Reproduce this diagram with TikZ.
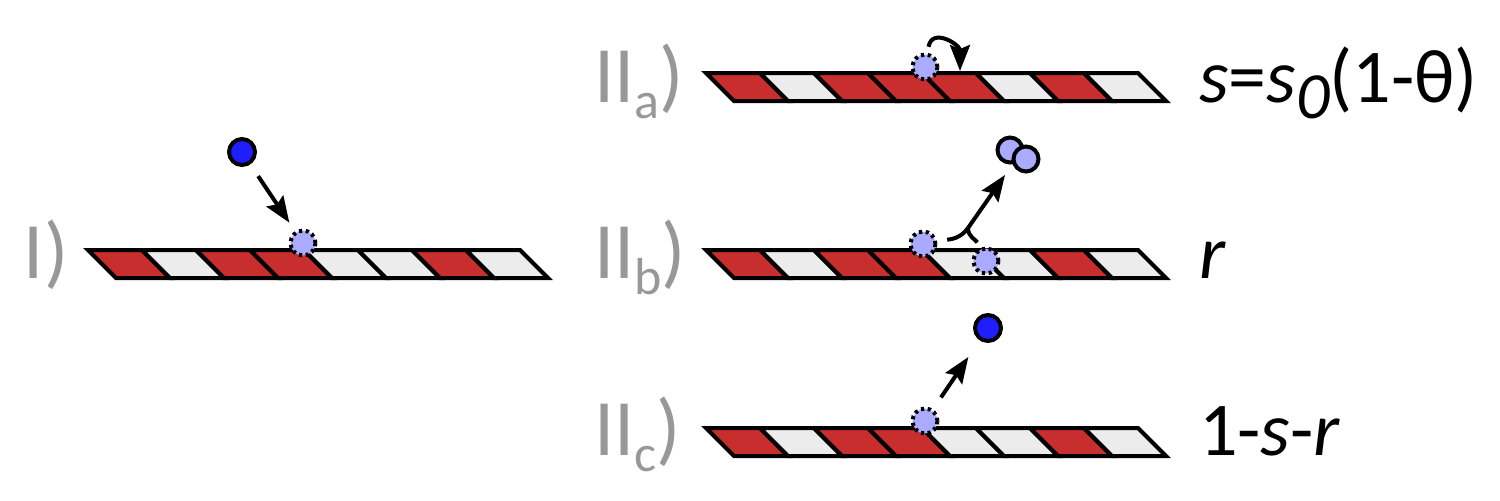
\documentclass[tikz,border=0pt]{standalone}
\usepackage{fontspec}
\setmainfont{Carlito}
\usepackage{tikz}
\usetikzlibrary{arrows.meta,positioning,calc}

\definecolor{rd}{RGB}{200,46,46}
\definecolor{wt}{RGB}{236,236,236}
\definecolor{sitecol}{RGB}{170,170,255}
\definecolor{ballcol}{RGB}{30,30,255}
\definecolor{labelgray}{RGB}{152,152,152}

% one strip of 8 slanted cells: x, y of top left corner, cell colours
\newcommand{\tape}[3]{%
  \foreach \c [count=\i from 0] in {#3}
    \filldraw[fill=\c] ({#1+54*\i},#2) -- ++(54,0) -- ++(28,28) -- ++(-54,0) -- cycle;
}
\newcommand{\sub}[1]{\raisebox{-8pt}{\fontsize{26}{26}\selectfont #1}}

\begin{document}
\begin{tikzpicture}[x=0.5pt,y=-0.5pt,line width=2pt,>={Stealth[length=13pt,width=10pt,inset=2pt]},
    site/.style={circle,draw,dash pattern=on 1.6pt off 1.8pt,fill=sitecol,inner sep=0pt,minimum size=12.5pt},
    mol/.style={circle,draw,fill=sitecol,inner sep=0pt,minimum size=12.5pt},
    ball/.style={circle,draw,fill=ballcol,inner sep=0pt,minimum size=13pt},
    stage/.style={text=labelgray,font=\fontsize{40}{40}\selectfont,anchor=base west,inner sep=0pt},
    rate/.style={font=\fontsize{38}{38}\selectfont,anchor=base west,inner sep=0pt}]
      \useasboundingbox (0,0) rectangle (1500,500);

      \tape{88}{250}{rd,wt,rd,rd,wt,wt,rd,wt}
      \tape{706}{73}{rd,wt,rd,rd,rd,wt,rd,wt}
      \tape{706}{250}{rd,wt,rd,rd,wt,wt,rd,wt}
      \tape{706}{428}{rd,wt,rd,rd,wt,wt,rd,wt}

      \node[stage] (lI) at (22,278) {I)};
      \node[stage] (lA) at (592,102) {II\sub{a})};
      \node[stage] (lB) at (592,278) {II\sub{b})};
      \node[stage] (lC) at (592,455) {II\sub{c})};

      \node[rate] (rA) at (1197,102) {\textit{s}=\textit{s}\raisebox{-8pt}{\fontsize{33}{33}\selectfont\textit{0}}(1-θ)};
      \node[rate] (rB) at (1197,278) {\textit{r}};
      \node[rate] (rC) at (1197,455) {1-\textit{s}-\textit{r}};

      % I
      \node[ball] (bI) at (242,152) {};
      \node[site] (sI) at (303,243) {};
      \draw[->,shorten <=7pt,shorten >=5pt] (bI) -- (sI);

      % II a
      \node[site] (sA) at (925,67) {};
      \coordinate (cA) at (960,71);
      \draw[->,shorten <=3pt] (sA) to[out=80,in=90,looseness=1.8] (cA);

      % II b
      \node[site] (sB1) at (923,244) {};
      \node[site] (sB2) at (986,261) {};
      \coordinate (jB) at (968,228);
      \coordinate (tB) at (1005,175);
      \node[mol] (dA) at (1010,150) {};
      \node[mol] (dB) at (1026,159) {};
      \draw[shorten <=5pt] (sB1) to[out=10,in=235] (jB);
      \draw[shorten <=3pt] (sB2) to[out=115,in=-90] (jB);
      \draw[->] (jB) -- (tB);

      % II c
      \node[site] (sC) at (925,421) {};
      \node[ball] (bC) at (988,328) {};
      \draw[->,shorten <=7pt,shorten >=10pt] (sC) -- (bC);

    \end{tikzpicture}
\end{document}
